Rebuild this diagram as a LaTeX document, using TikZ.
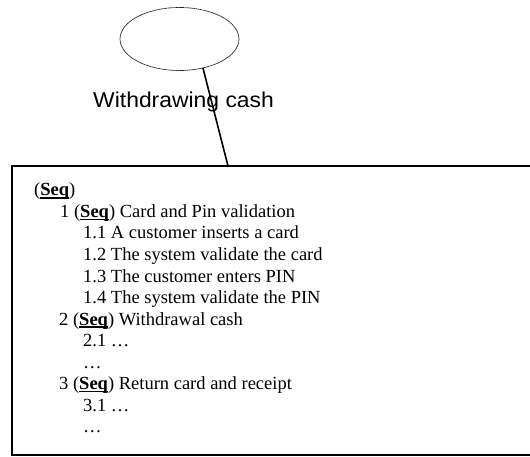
\documentclass[tikz,border=0pt]{standalone}
\usepackage{fontspec}
\setmainfont{Liberation Serif}
\newfontfamily\labelfont{Liberation Sans}
\usetikzlibrary{shapes.geometric}

% bold, underlined "Seq" keyword
\newcommand\seqmark{\setbox0\hbox{\bfseries Seq}\rlap{\rule[-2.6pt]{\wd0}{1.3pt}}\box0}

\tikzset{
  usecase/.style={ellipse, draw=black!85, line width=0.7pt, dash pattern=on 1.8pt off 0.4pt,
    minimum width=119pt, minimum height=63pt, inner sep=0pt, outer sep=0pt},
  link/.style={draw=black, line width=1.6pt},
  frame/.style={draw=black, line width=2pt},
  casename/.style={font=\labelfont\fontsize{21.5}{24}\selectfont, anchor=base west,
    inner sep=0pt, xscale=1.065},
  stepline/.style={font=\fontsize{18.5}{21.5}\selectfont, anchor=base west, inner sep=0pt}
}

\begin{document}
\begin{tikzpicture}[x=1pt, y=-1pt]
  \useasboundingbox (0,0) rectangle (530,457);

  % use case and its name
  \node[usecase] (uc) at (179.5,39) {};
  \node[casename] (ucname) at (93,108) {Withdrawing cash};

  % scenario frame (open on the right)
  \draw[frame] (530,166) -- (12,166) -- (12,455) -- (530,455);
  \coordinate (boxtop) at (228,166);

  % connector from the use case to the scenario
  \draw[link] (uc.-51) -- (boxtop);

  % scenario steps
  \node[stepline] (s0)  at (34,196)    {(\seqmark)};
  \node[stepline] (s1)  at (60,217.5)  {1 (\seqmark) Card and Pin validation};
  \node[stepline] (s11) at (83,239)    {1.1 A customer inserts a card};
  \node[stepline] (s12) at (83,260.5)  {1.2 The system validate the card};
  \node[stepline] (s13) at (83,282)    {1.3 The customer enters PIN};
  \node[stepline] (s14) at (83,303.5)  {1.4 The system validate the PIN};
  \node[stepline] (s2)  at (59,325)    {2 (\seqmark) Withdrawal cash};
  \node[stepline] (s21) at (83,346.5)  {2.1 \dots};
  \node[stepline] (s2x) at (83,368)    {\dots};
  \node[stepline] (s3)  at (59,389.5)  {3 (\seqmark) Return card and receipt};
  \node[stepline] (s31) at (83,411)    {3.1 \dots};
  \node[stepline] (s3x) at (83,432.5)  {\dots};
\end{tikzpicture}
\end{document}
